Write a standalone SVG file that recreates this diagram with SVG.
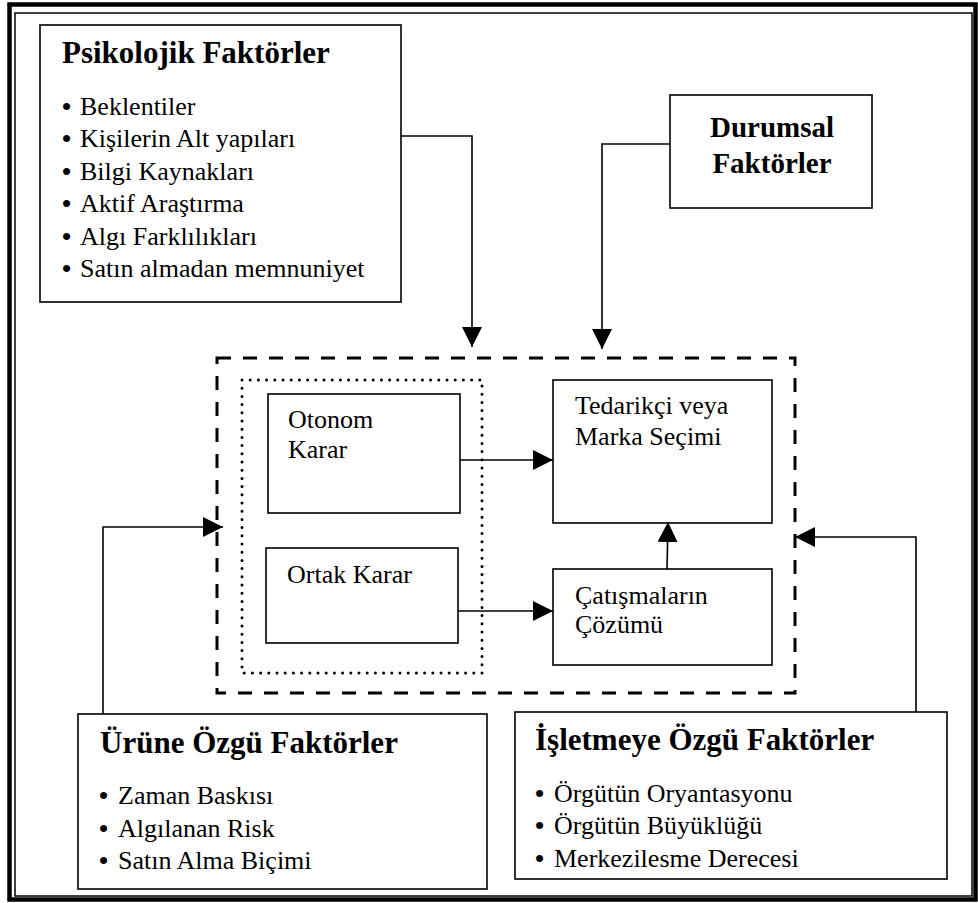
<svg xmlns="http://www.w3.org/2000/svg" width="978" height="903" viewBox="0 0 978 903">
  <style>
    .box { fill: #fff; stroke: #000; stroke-width: 1.6; }
    text { font-family: 'Liberation Serif', 'DejaVu Serif', serif; fill: #000; }
    .title { font-weight: bold; font-size: 31px; }
    .title2 { font-weight: bold; font-size: 29px; }
    .txt { font-size: 26px; }
    .bul { font-weight: bold; }
    .conn { fill: none; stroke: #000; stroke-width: 1.6; marker-end: url(#arrow); }
  </style>
  <defs>
    <marker id="arrow" markerUnits="userSpaceOnUse" markerWidth="20" markerHeight="20" refX="20" refY="10" orient="auto">
      <path d="M0,0 L20,10 L0,20 Z" fill="#000"/>
    </marker>
  </defs>
  <rect width="978" height="903" fill="#fff"/>

  <!-- page frame: thick outer line and thin inner line -->
  <g id="frame" fill="none" stroke="#000">
    <rect x="9.5" y="4.5" width="966" height="895" stroke-width="4.5"/>
    <rect x="15" y="13" width="957" height="883" stroke-width="1.5"/>
  </g>

  <!-- decision area: dashed outer boundary and dotted decision-type group -->
  <g id="decision-area" fill="none" stroke="#000">
    <rect x="217" y="358" width="578" height="335" stroke-width="3" stroke-dasharray="14 12"/>
    <rect x="242" y="380" width="240" height="293" stroke-width="3" stroke-dasharray="0 8.2" stroke-linecap="round"/>
  </g>

  <g id="psikolojik">
    <rect class="box" x="40" y="25" width="361" height="277"/>
    <text class="title" x="62" y="63">Psikolojik Faktörler</text>
    <text class="txt"><tspan class="bul" x="62" y="115">•</tspan><tspan x="80" y="115">Beklentiler</tspan></text>
    <text class="txt"><tspan class="bul" x="62" y="147.4">•</tspan><tspan x="80" y="147.4">Kişilerin Alt yapıları</tspan></text>
    <text class="txt"><tspan class="bul" x="62" y="179.8">•</tspan><tspan x="80" y="179.8">Bilgi Kaynakları</tspan></text>
    <text class="txt"><tspan class="bul" x="62" y="212.2">•</tspan><tspan x="80" y="212.2">Aktif Araştırma</tspan></text>
    <text class="txt"><tspan class="bul" x="62" y="244.6">•</tspan><tspan x="80" y="244.6">Algı Farklılıkları</tspan></text>
    <text class="txt"><tspan class="bul" x="62" y="277">•</tspan><tspan x="80" y="277">Satın almadan memnuniyet</tspan></text>
  </g>

  <g id="durumsal">
    <rect class="box" x="670" y="95" width="202" height="113"/>
    <text class="title2" x="772" y="137" text-anchor="middle">Durumsal</text>
    <text class="title2" x="772" y="173" text-anchor="middle">Faktörler</text>
  </g>

  <g id="otonom">
    <rect class="box" x="268" y="394" width="192" height="119"/>
    <text class="txt" x="288" y="428">Otonom</text>
    <text class="txt" x="288" y="458">Karar</text>
  </g>

  <g id="ortak">
    <rect class="box" x="266" y="548" width="192" height="95"/>
    <text class="txt" x="287" y="583">Ortak Karar</text>
  </g>

  <g id="tedarikci">
    <rect class="box" x="553" y="380" width="219" height="143"/>
    <text class="txt" x="575" y="414">Tedarikçi veya</text>
    <text class="txt" x="575" y="445">Marka Seçimi</text>
  </g>

  <g id="catisma">
    <rect class="box" x="553" y="569" width="219" height="96"/>
    <text class="txt" x="575" y="604">Çatışmaların</text>
    <text class="txt" x="575" y="633">Çözümü</text>
  </g>

  <g id="urune">
    <rect class="box" x="78" y="714" width="409" height="175"/>
    <text class="title" x="100" y="753">Ürüne Özgü Faktörler</text>
    <text class="txt"><tspan class="bul" x="99" y="804">•</tspan><tspan x="118" y="804">Zaman Baskısı</tspan></text>
    <text class="txt"><tspan class="bul" x="99" y="837">•</tspan><tspan x="118" y="837">Algılanan Risk</tspan></text>
    <text class="txt"><tspan class="bul" x="99" y="869">•</tspan><tspan x="118" y="869">Satın Alma Biçimi</tspan></text>
  </g>

  <g id="isletmeye">
    <rect class="box" x="515" y="712" width="432" height="167"/>
    <text class="title" x="535" y="750">İşletmeye Özgü Faktörler</text>
    <text class="txt"><tspan class="bul" x="535" y="802">•</tspan><tspan x="554" y="802">Örgütün Oryantasyonu</tspan></text>
    <text class="txt"><tspan class="bul" x="535" y="834">•</tspan><tspan x="554" y="834">Örgütün Büyüklüğü</tspan></text>
    <text class="txt"><tspan class="bul" x="535" y="867">•</tspan><tspan x="554" y="867">Merkezilesme Derecesi</tspan></text>
  </g>

  <g id="connectors">
    <path class="conn" d="M401,136 H472 V347"/>
    <path class="conn" d="M670,144 H602 V349"/>
    <path class="conn" d="M460,460 H553"/>
    <path class="conn" d="M458,611 H553"/>
    <path class="conn" d="M667,569 L668,522"/>
    <path class="conn" d="M103,714 V527 H223"/>
    <path class="conn" d="M916,712 V537 H795"/>
  </g>
</svg>
